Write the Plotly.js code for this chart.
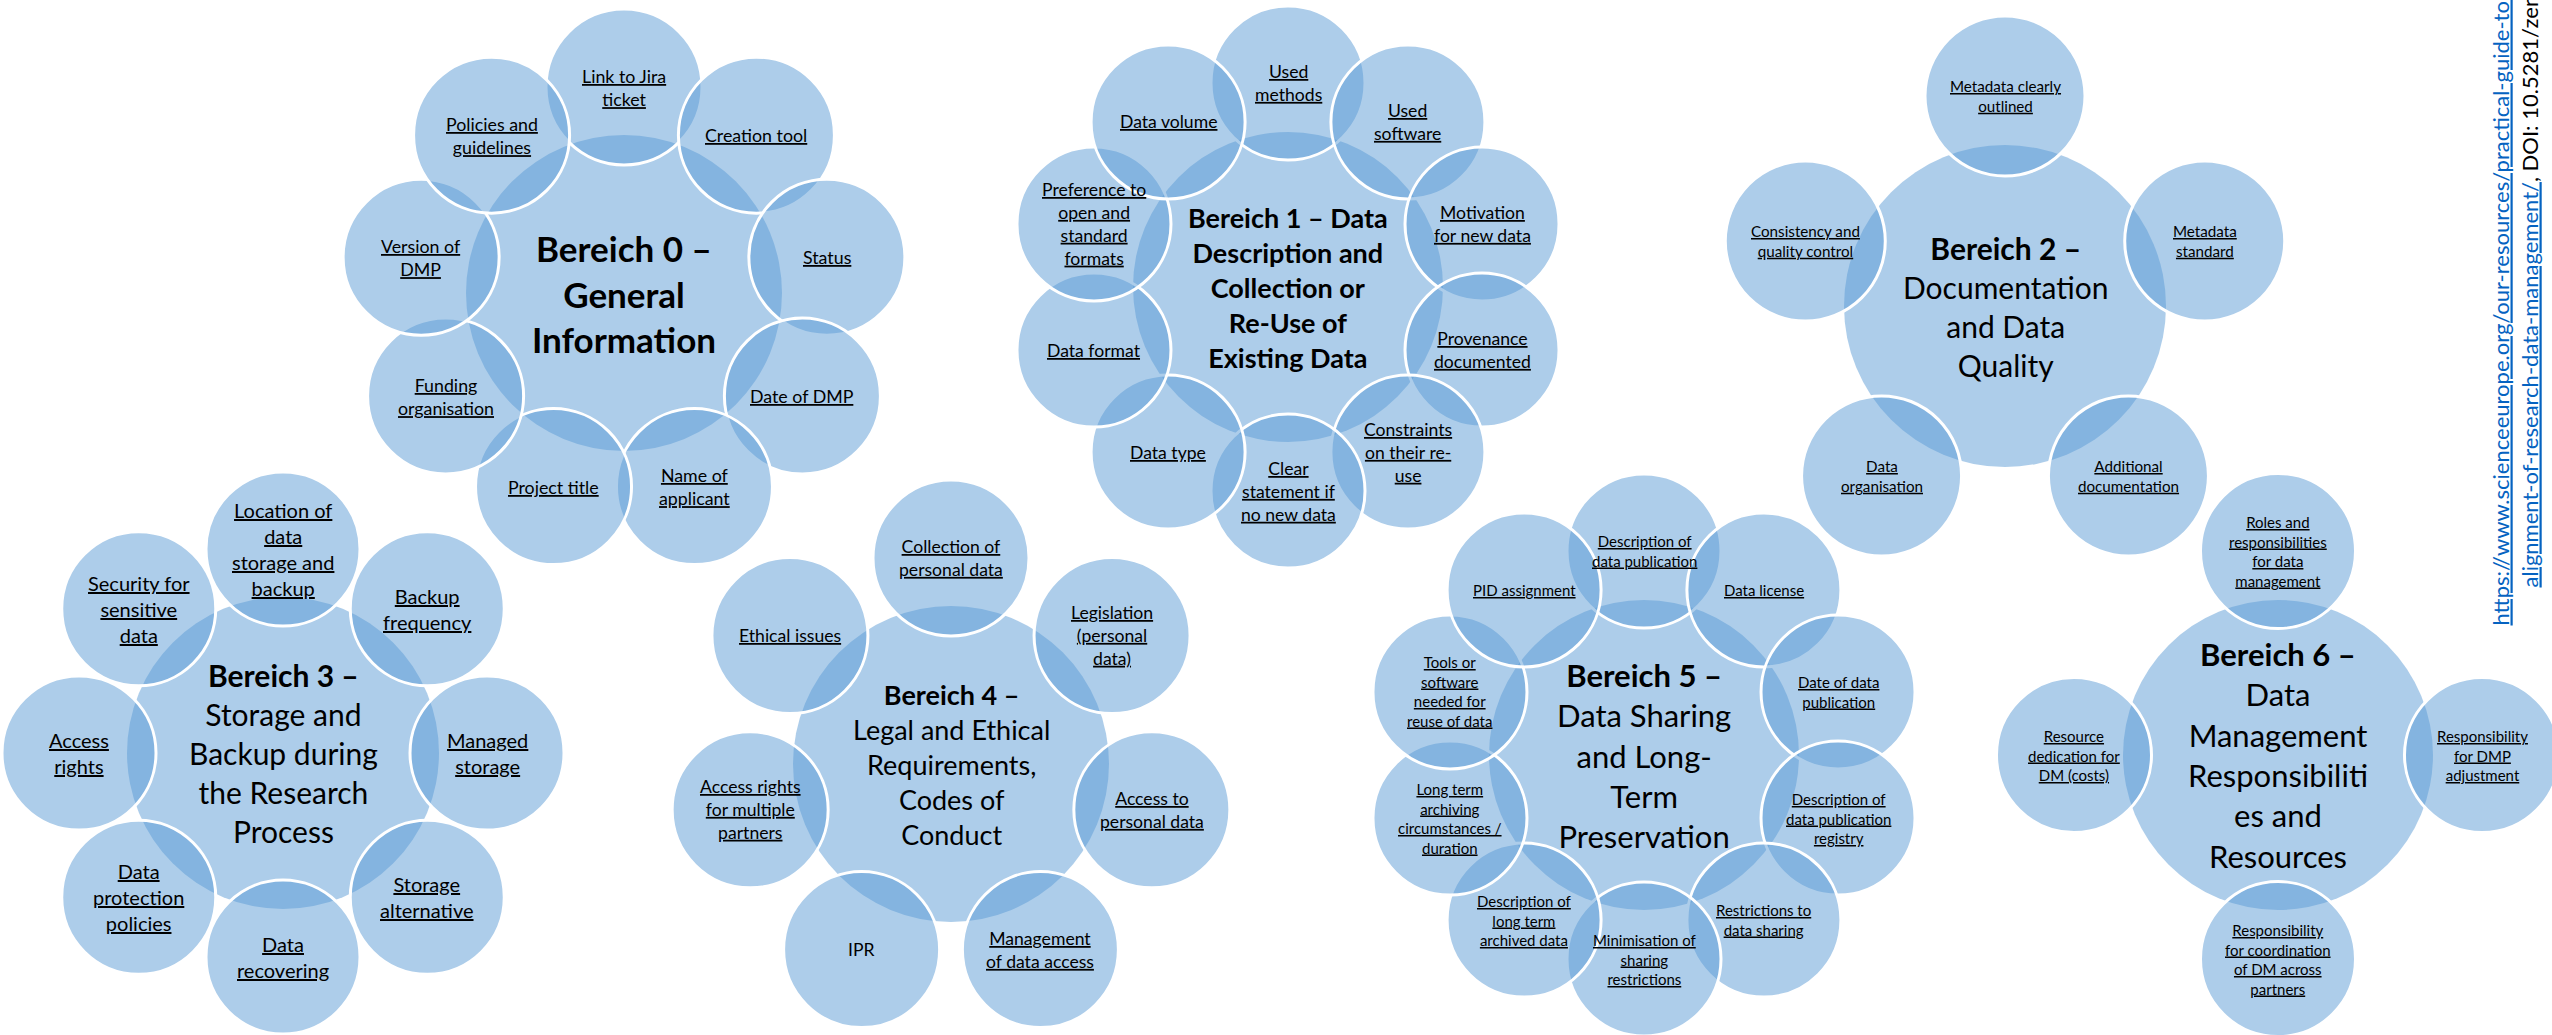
<!DOCTYPE html>
<html>
<head>
<meta charset="utf-8">
<script src="https://cdn.plot.ly/plotly-3.0.1.min.js"></script>
<style>
html,body{margin:0;padding:0;background:#fff;overflow:hidden}
#chart{width:2552px;height:1035px}
</style>
</head>
<body>
<div id="chart"></div>
<script>
// ---------- DATA (texts of the diagram) ----------
const titles = [
  ["Bereich 0 –", "General", "Information"],
  ["Bereich 1 – Data", "Description and", "Collection or", "Re-Use of", "Existing Data"],
  ["Bereich 2 –", "Documentation", "and Data", "Quality"],
  ["Bereich 3 –", "Storage and", "Backup during", "the Research", "Process"],
  ["Bereich 4 –", "Legal and Ethical", "Requirements,", "Codes of", "Conduct"],
  ["Bereich 5 –", "Data Sharing", "and Long-", "Term", "Preservation"],
  ["Bereich 6 –", "Data", "Management", "Responsibiliti", "es and", "Resources"]
];

// satellites, clockwise starting at the top
const bereich0 = ["Link to Jira<br>ticket", "Creation tool", "Status", "Date of DMP", "Name of<br>applicant",
  "Project title", "Funding<br>organisation", "Version of<br>DMP", "Policies and<br>guidelines"];
const bereich1 = ["Used<br>methods", "Used<br>software", "Motivation<br>for new data", "Provenance<br>documented",
  "Constraints<br>on their re-<br>use", "Clear<br>statement if<br>no new data", "Data type", "Data format",
  "Preference to<br>open and<br>standard<br>formats", "Data volume"];
const bereich2 = ["Metadata clearly<br>outlined", "Metadata<br>standard", "Additional<br>documentation",
  "Data<br>organisation", "Consistency and<br>quality control"];
const bereich3 = ["Location of<br>data<br>storage and<br>backup", "Backup<br>frequency", "Managed<br>storage",
  "Storage<br>alternative", "Data<br>recovering", "Data<br>protection<br>policies", "Access<br>rights",
  "Security for<br>sensitive<br>data"];
const bereich4 = ["Collection of<br>personal data", "Legislation<br>(personal<br>data)", "Access to<br>personal data",
  "Management<br>of data access", "IPR", "Access rights<br>for multiple<br>partners", "Ethical issues"];
const bereich5 = ["Description of<br>data publication", "Data license", "Date of data<br>publication",
  "Description of<br>data publication<br>registry", "Restrictions to<br>data sharing",
  "Minimisation of<br>sharing<br>restrictions", "Description of<br>long term<br>archived data",
  "Long term<br>archiving<br>circumstances /<br>duration", "Tools or<br>software<br>needed for<br>reuse of data",
  "PID assignment"];
const bereich6 = ["Roles and<br>responsibilities<br>for data<br>management", "Responsibility<br>for DMP<br>adjustment",
  "Responsibility<br>for coordination<br>of DM across<br>partners", "Resource<br>dedication for<br>DM (costs)"];
const plainLabels = ["IPR"];  // the only label that is not a link

const sourceLine1 = "https://www.scienceeurope.org/our-resources/practical-guide-to-the-international-";
const sourceLine2Link = "alignment-of-research-data-management/";
const sourceLine2Rest = ", DOI: 10.5281/zenodo.4915862";

const satellites = [bereich0, bereich1, bereich2, bereich3, bereich4, bereich5, bereich6];

// ---------- LAYOUT / STYLE ----------
const W = 2552, H = 1035;
const geom = [
  {cx: 624,  cy: 293, rc: 158, ring: 206, rs: 78,   tSize: 35, sSize: 17.8, bold: 3},
  {cx: 1288, cy: 287, rc: 155, ring: 204, rs: 77,   tSize: 27, sSize: 17.6, bold: 5},
  {cx: 2005, cy: 306, rc: 161, ring: 210, rs: 80,   tSize: 30, sSize: 15.2, bold: 1},
  {cx: 283,  cy: 753, rc: 156, ring: 204, rs: 77,   tSize: 30, sSize: 20,   bold: 1},
  {cx: 951,  cy: 764, rc: 158, ring: 206, rs: 78,   tSize: 27, sSize: 17.6, bold: 1},
  {cx: 1644, cy: 755, rc: 155, ring: 204, rs: 77,   tSize: 31, sSize: 15,   bold: 1},
  {cx: 2278, cy: 755, rc: 155, ring: 204, rs: 77.5, tSize: 31, sSize: 15,   bold: 1}
];
const FILL = 'rgba(91,155,213,0.5)';
const FONT = 'Lato, "Open Sans", sans-serif';

const shapes = [];
const annotations = [];

function circle(cx, cy, r, withLine) {
  return {
    type: 'circle', xref: 'x', yref: 'y',
    x0: cx - r, x1: cx + r, y0: cy - r, y1: cy + r,
    fillcolor: FILL,
    line: withLine ? {color: '#ffffff', width: 3} : {width: 0},
    layer: 'above'
  };
}
function underline(txt) {
  return txt.split('<br>').map(l => '<span style="text-decoration:underline">' + l + '</span>').join('<br>');
}

geom.forEach((g, k) => {
  shapes.push(circle(g.cx, g.cy, g.rc, false));
  const labs = satellites[k];
  const n = labs.length;
  labs.forEach((lab, i) => {
    const a = (-90 + i * 360 / n) * Math.PI / 180;
    const x = g.cx + g.ring * Math.cos(a);
    const y = g.cy + g.ring * Math.sin(a);
    shapes.push(circle(x, y, g.rs, true));
    annotations.push({
      xref: 'x', yref: 'y', x: x, y: y, xanchor: 'center', yanchor: 'middle', align: 'center',
      showarrow: false,
      text: plainLabels.includes(lab) ? lab : underline(lab),
      font: {family: FONT, size: g.sSize, color: '#000'}
    });
  });
  const t = titles[k].map((l, j) => j < g.bold ? '<b>' + l + '</b>' : l).join('<br>');
  annotations.push({
    xref: 'x', yref: 'y', x: g.cx, y: g.cy, xanchor: 'center', yanchor: 'middle', align: 'center',
    showarrow: false, text: t,
    font: {family: FONT, size: g.tSize, color: '#000'}
  });
});

// vertical source text on the right (runs off the top edge, as in the original)
annotations.push({
  xref: 'x', yref: 'y', x: 2500, y: 628, xanchor: 'center', yanchor: 'bottom', textangle: -90,
  showarrow: false, align: 'left',
  text: '<span style="text-decoration:underline">' + sourceLine1 + '</span>',
  font: {family: FONT, size: 22, color: '#0563C1'}
});
annotations.push({
  xref: 'x', yref: 'y', x: 2529, y: 590, xanchor: 'center', yanchor: 'bottom', textangle: -90,
  showarrow: false, align: 'left',
  text: '<span style="color:#0563C1;text-decoration:underline">' + sourceLine2Link + '</span>' + sourceLine2Rest,
  font: {family: FONT, size: 22, color: '#000'}
});

const layout = {
  width: W, height: H,
  margin: {l: 0, r: 0, t: 0, b: 0, pad: 0},
  paper_bgcolor: '#fff', plot_bgcolor: '#fff',
  xaxis: {range: [0, W], visible: false, fixedrange: true},
  yaxis: {range: [H, 0], visible: false, fixedrange: true},
  showlegend: false,
  shapes: shapes,
  annotations: annotations
};

Plotly.newPlot('chart', [], layout, {staticPlot: true, displayModeBar: false});
</script>
</body>
</html>
